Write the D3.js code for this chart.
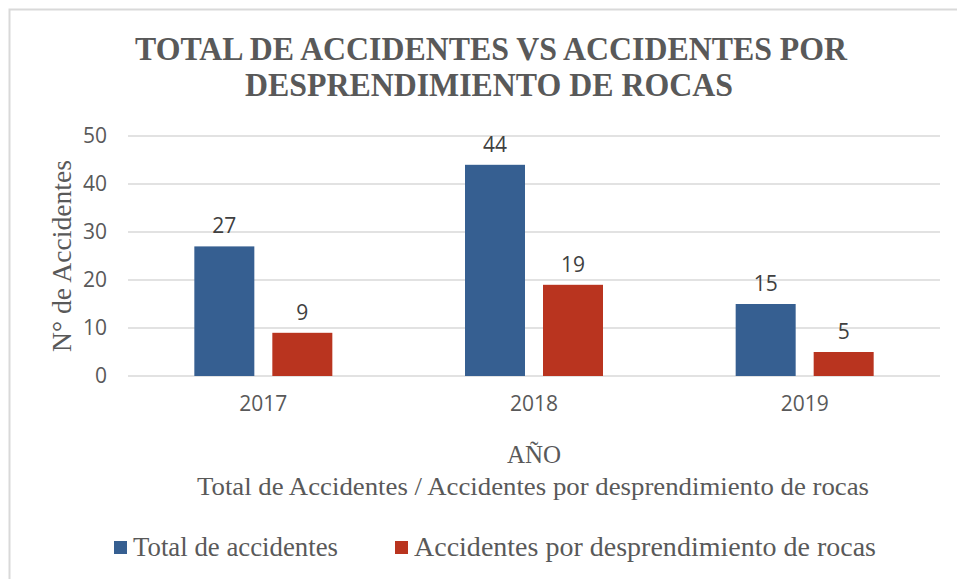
<!DOCTYPE html>
<html>
<head>
<meta charset="utf-8">
<script src="https://cdn.jsdelivr.net/npm/d3@7"></script>
<style>
  body { margin: 0; background: #fff; }
  svg text { fill: #595959; }
</style>
</head>
<body>
<svg id="chart"></svg>
<script>
const years = ["2017", "2018", "2019"];
const seriesNames = ["Total de accidentes", "Accidentes por desprendimiento de rocas"];
const totalValues = [27, 44, 15];
const rockValues = [9, 19, 5];
const yTicks = [0, 10, 20, 30, 40, 50];
const seriesColors = ["#365f91", "#b9341f"];

const width = 957, height = 579;
const plot = { left: 128, right: 940, top: 136, bottom: 376 };

const svg = d3.select("#chart").attr("width", width).attr("height", height);

// chart frame (cropped at right and bottom)
svg.append("rect")
  .attr("x", 9.5).attr("y", 9.5)
  .attr("width", width + 20).attr("height", height + 20)
  .attr("fill", "#fff")
  .attr("stroke", "#d9d9d9")
  .attr("stroke-width", 2);

const x = d3.scaleBand().domain(years).range([plot.left, plot.right]).padding(0);
const groupWidth = 138;
const x1 = d3.scaleBand().domain(seriesNames)
  .range([(x.bandwidth() - groupWidth) / 2, (x.bandwidth() + groupWidth) / 2])
  .paddingInner(18 / 78);
const y = d3.scaleLinear().domain([0, 50]).range([plot.bottom, plot.top]);

const sans = "'Open Sans', 'Liberation Sans', sans-serif";
const serif = "'Liberation Serif', 'Times New Roman', serif";

// grid
svg.append("g")
  .selectAll("line")
  .data(yTicks)
  .join("line")
  .attr("x1", plot.left).attr("x2", plot.right)
  .attr("y1", d => y(d)).attr("y2", d => y(d))
  .attr("stroke", "#d9d9d9")
  .attr("stroke-width", 1.5);

// y axis labels
const yAxis = svg.append("g")
  .attr("transform", `translate(${plot.left - 21},0)`)
  .call(d3.axisLeft(y).tickValues(yTicks).tickSize(0).tickPadding(0));
yAxis.select(".domain").remove();
yAxis.selectAll("text")
  .style("font-family", sans)
  .style("font-size", "21px")
  .style("fill", "#595959");

// x axis labels
const xAxis = svg.append("g")
  .attr("transform", `translate(0,${plot.bottom})`)
  .call(d3.axisBottom(x).tickSize(0).tickPadding(20));
xAxis.select(".domain").remove();
xAxis.selectAll("text")
  .style("font-family", sans)
  .style("font-size", "21px")
  .style("fill", "#595959");

// bars
const rows = years.map((yr, i) => ({
  year: yr,
  values: [
    { name: seriesNames[0], value: totalValues[i], color: seriesColors[0] },
    { name: seriesNames[1], value: rockValues[i], color: seriesColors[1] },
  ],
}));

const groups = svg.append("g")
  .selectAll("g")
  .data(rows)
  .join("g")
  .attr("transform", d => `translate(${x(d.year)},0)`);

groups.selectAll("rect")
  .data(d => d.values)
  .join("rect")
  .attr("x", d => x1(d.name))
  .attr("y", d => y(d.value))
  .attr("width", x1.bandwidth())
  .attr("height", d => y(0) - y(d.value))
  .attr("fill", d => d.color);

groups.selectAll("text")
  .data(d => d.values)
  .join("text")
  .attr("x", d => x1(d.name) + x1.bandwidth() / 2)
  .attr("y", d => y(d.value) - 13)
  .attr("text-anchor", "middle")
  .style("font-family", sans)
  .style("font-size", "21px")
  .style("fill", "#404040")
  .text(d => d.value);

// title
const title = svg.append("g")
  .style("font-family", serif)
  .style("font-weight", "bold")
  .style("font-size", "33px");
title.append("text")
  .attr("x", 135).attr("y", 60)
  .attr("textLength", 712).attr("lengthAdjust", "spacingAndGlyphs")
  .text("TOTAL DE ACCIDENTES VS ACCIDENTES POR");
title.append("text")
  .attr("x", 245).attr("y", 96)
  .attr("textLength", 488).attr("lengthAdjust", "spacingAndGlyphs")
  .text("DESPRENDIMIENTO DE ROCAS");

// axis titles
svg.append("text")
  .attr("x", (plot.left + plot.right) / 2).attr("y", 463)
  .attr("text-anchor", "middle")
  .style("font-family", serif)
  .style("font-size", "25px")
  .text("AÑO");
svg.append("text")
  .attr("x", 197).attr("y", 495)
  .attr("textLength", 672).attr("lengthAdjust", "spacingAndGlyphs")
  .style("font-family", serif)
  .style("font-size", "25px")
  .text("Total de Accidentes / Accidentes por desprendimiento de rocas");

svg.append("text")
  .attr("transform", `translate(71,256) rotate(-90)`)
  .attr("text-anchor", "middle")
  .attr("textLength", 192).attr("lengthAdjust", "spacingAndGlyphs")
  .style("font-family", serif)
  .style("font-size", "27px")
  .text("N° de Accidentes");

// legend
const legendItems = [
  { name: seriesNames[0], color: seriesColors[0], x: 114, len: 205 },
  { name: seriesNames[1], color: seriesColors[1], x: 395, len: 462 },
];
const legend = svg.append("g")
  .selectAll("g")
  .data(legendItems)
  .join("g")
  .attr("transform", d => `translate(${d.x},0)`);
legend.append("rect")
  .attr("x", 0).attr("y", 541)
  .attr("width", 13).attr("height", 13)
  .attr("fill", d => d.color);
legend.append("text")
  .attr("x", 19).attr("y", 556)
  .attr("textLength", d => d.len).attr("lengthAdjust", "spacingAndGlyphs")
  .style("font-family", serif)
  .style("font-size", "27px")
  .text(d => d.name);
</script>
</body>
</html>
